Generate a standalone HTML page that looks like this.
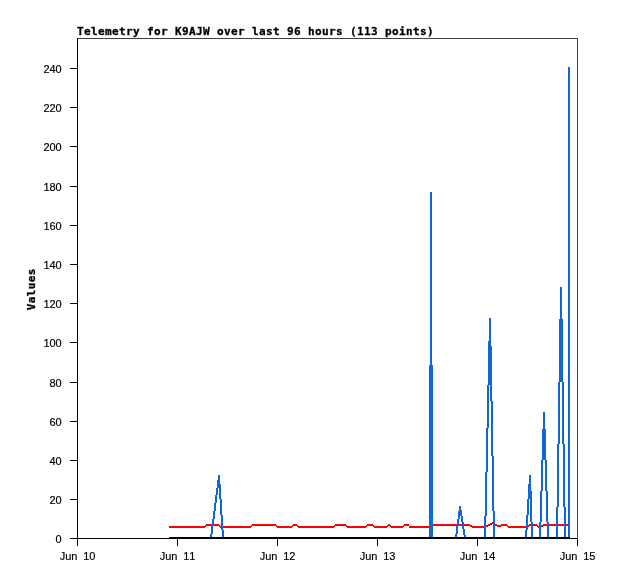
<!DOCTYPE html>
<html><head><meta charset="utf-8"><title>Telemetry for K9AJW</title>
<style>html,body{margin:0;padding:0;background:#fff}svg{display:block}.t{font-family:"Liberation Sans","DejaVu Sans",sans-serif;font-size:11px;fill:#000;text-anchor:middle;stroke:#000;stroke-width:0.18px}.b{font-family:"DejaVu Sans Mono","Liberation Mono",monospace;font-weight:bold;font-size:11px;fill:#000;stroke:#000;stroke-width:0.3px}</style></head><body>
<svg width="618" height="579" viewBox="0 0 618 579">
<rect width="618" height="579" fill="#fff"/>
<g shape-rendering="crispEdges">
<path d="M77 38h501v1h-501zM577 38h1v501h-1z" fill="#404040"/>
<path d="M77 38h1v508h-1zM70 538h508v1h-508zM70 499h7v1h-7zM70 460h7v1h-7zM70 421h7v1h-7zM70 382h7v1h-7zM70 342h7v1h-7zM70 303h7v1h-7zM70 264h7v1h-7zM70 225h7v1h-7zM70 186h7v1h-7zM70 146h7v1h-7zM70 107h7v1h-7zM70 68h7v1h-7zM177 538h1v8h-1zM277 538h1v8h-1zM377 538h1v8h-1zM477 538h1v8h-1zM577 538h1v8h-1z" fill="#000"/>
<path d="M492 522h1v1h-1zM490 523h5v1h-5zM293 524h4v1h-4zM335 524h11v1h-11zM367 524h6v1h-6zM488 524h4v1h-4zM529 524h8v1h-8zM543 524h26v1h-26zM432 524h38v1h-38zM206 524h13v1h-13zM501 524h6v1h-6zM493 524h4v1h-4zM388 524h2v1h-2zM404 524h5v1h-5zM252 524h24v1h-24zM403 525h6v1h-6zM366 525h8v1h-8zM495 525h13v1h-13zM334 525h13v1h-13zM527 525h11v1h-11zM541 525h28v1h-28zM292 525h6v1h-6zM205 525h15v1h-15zM431 525h41v1h-41zM251 525h26v1h-26zM387 525h4v1h-4zM486 525h4v1h-4zM373 526h15v1h-15zM346 526h21v1h-21zM276 526h17v1h-17zM297 526h38v1h-38zM497 526h4v1h-4zM219 526h33v1h-33zM537 526h6v1h-6zM169 526h37v1h-37zM390 526h14v1h-14zM409 526h23v1h-23zM470 526h18v1h-18zM507 526h22v1h-22zM409 527h22v1h-22zM472 527h14v1h-14zM391 527h12v1h-12zM220 527h31v1h-31zM538 527h3v1h-3zM347 527h19v1h-19zM298 527h36v1h-36zM508 527h19v1h-19zM277 527h15v1h-15zM169 527h36v1h-36zM374 527h13v1h-13z" fill="#ff0000"/>
<path d="M560 287h2v32h-2zM489 318h2v23h-2zM488 341h3v5h-3zM430 192h2v173h-2zM559 319h4v63h-4zM488 346h4v39h-4zM490 385h2v16h-2zM487 385h2v43h-2zM543 412h2v17h-2zM562 382h2v62h-2zM558 382h2v62h-2zM491 401h2v55h-2zM542 429h4v31h-4zM486 428h2v44h-2zM218 475h2v5h-2zM529 475h2v9h-2zM217 480h3v4h-3zM217 484h4v4h-4zM545 460h2v31h-2zM541 460h2v31h-2zM528 484h3v7h-3zM216 488h2v7h-2zM219 488h2v11h-2zM528 491h4v8h-4zM215 495h2v8h-2zM563 444h2v63h-2zM557 444h2v63h-2zM459 506h2v4h-2zM492 456h2v55h-2zM214 503h2v8h-2zM459 510h3v1h-3zM527 499h2v16h-2zM220 499h2v16h-2zM485 472h2v44h-2zM458 511h4v5h-4zM213 511h2v8h-2zM458 516h2v3h-2zM546 491h2v31h-2zM540 491h2v31h-2zM530 499h2v23h-2zM461 516h2v6h-2zM212 519h2v7h-2zM457 519h2v7h-2zM462 522h2v7h-2zM526 515h2v15h-2zM221 515h2v15h-2zM211 526h2v8h-2zM456 526h2v8h-2zM463 529h2v6h-2zM429 365h4v173h-4zM568 67h2v472h-2zM564 507h2v32h-2zM556 507h2v32h-2zM493 511h2v28h-2zM484 516h2v23h-2zM531 522h2v17h-2zM547 522h2v17h-2zM539 522h2v17h-2zM525 530h2v9h-2zM222 530h2v9h-2zM455 534h2v5h-2zM210 534h2v5h-2zM464 535h2v4h-2z" fill="#1068d0"/>
<path d="M169 537h401v2h-401z" fill="#000"/>
</g>
<text class="b" x="76.9 83.9 90.9 97.9 104.9 111.9 118.9 125.9 132.9 139.9 146.9 153.9 160.9 167.9 174.9 181.9 188.9 195.9 202.9 209.9 216.9 223.9 230.9 237.9 244.9 251.9 258.9 265.9 272.9 279.9 286.9 293.9 300.9 307.9 314.9 321.9 328.9 335.9 342.9 349.9 356.9 363.9 370.9 377.9 384.9 391.9 398.9 405.9 412.9 419.9 426.9" y="35">Telemetry for K9AJW over last 96 hours (113 points)</text>
<text class="t" x="58.5" y="542.6">0</text>
<text class="t" x="52.5 58.5" y="503.6">20</text>
<text class="t" x="52.5 58.5" y="464.6">40</text>
<text class="t" x="52.5 58.5" y="425.6">60</text>
<text class="t" x="52.5 58.5" y="386.6">80</text>
<text class="t" x="46.5 52.5 58.5" y="346.6">100</text>
<text class="t" x="46.5 52.5 58.5" y="307.6">120</text>
<text class="t" x="46.5 52.5 58.5" y="268.6">140</text>
<text class="t" x="46.5 52.5 58.5" y="229.6">160</text>
<text class="t" x="46.5 52.5 58.5" y="190.6">180</text>
<text class="t" x="46.5 52.5 58.5" y="150.6">200</text>
<text class="t" x="46.5 52.5 58.5" y="111.6">220</text>
<text class="t" x="46.5 52.5 58.5" y="72.6">240</text>
<text class="t" x="62.4 68.4 74.4 80.4 86.4 92.4" y="560">Jun 10</text>
<text class="t" x="162.4 168.4 174.4 180.4 186.4 192.4" y="560">Jun 11</text>
<text class="t" x="262.4 268.4 274.4 280.4 286.4 292.4" y="560">Jun 12</text>
<text class="t" x="362.4 368.4 374.4 380.4 386.4 392.4" y="560">Jun 13</text>
<text class="t" x="462.4 468.4 474.4 480.4 486.4 492.4" y="560">Jun 14</text>
<text class="t" x="562.4 568.4 574.4 580.4 586.4 592.4" y="560">Jun 15</text>
<text class="b" transform="translate(35 310.3) rotate(-90)" x="0 7 14 21 28 35" y="0">Values</text>
</svg></body></html>
